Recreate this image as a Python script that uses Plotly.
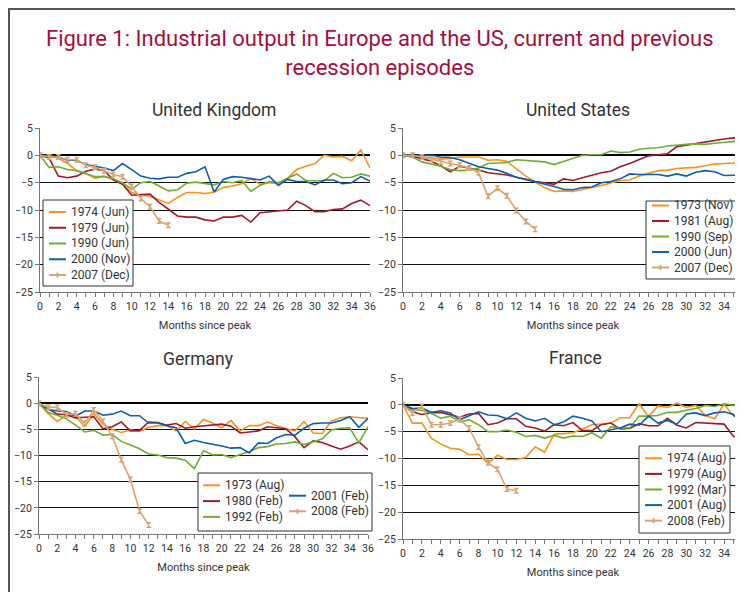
import plotly.graph_objects as go
from plotly.subplots import make_subplots

# the page body adds an 8px margin, so the figure is drawn 8px smaller and
# every position below is given in window pixels, then shifted back by 8
OFF = 8
W, H = 743 - OFF, 592 - OFF

months = list(range(37))

# United Kingdom
uk_1974 = [0, -0.3, -0.5, -1.5, -2.8, -3.3, -4.2, -3.8, -4.5, -5.2, -6.8, -7.3, -7.5, -8.2, -8.8, -7.7, -6.8, -6.8, -7.0,
           -6.7, -5.9, -5.6, -5.2, -4.2, -5.3, -5.0, -5.2, -4.2, -2.6, -2.0, -1.5, 0.0, -0.3, -0.2, -1.0, 1.0, -2.3]
uk_1979 = [0, -0.5, -3.8, -4.1, -3.8, -2.9, -2.5, -2.8, -4.5, -5.3, -7.3, -7.2, -7.1, -8.6, -9.8, -11.1, -11.3, -11.3,
           -11.8, -12.0, -11.3, -11.3, -11.0, -12.2, -10.5, -10.3, -10.1, -10.0, -8.4, -9.2, -10.3, -10.3, -9.9, -9.8,
           -8.8, -8.2, -9.2]
uk_1990 = [0, -2.2, -2.1, -2.6, -2.8, -3.3, -3.9, -3.9, -4.3, -5.0, -6.2, -5.0, -4.8, -5.6, -6.5, -6.3, -5.1, -4.9, -5.2,
           -5.4, -4.8, -5.0, -4.6, -6.6, -5.5, -4.8, -5.0, -4.2, -3.4, -4.6, -4.7, -4.7, -3.3, -4.1, -4.0, -3.4, -3.8]
uk_2000 = [0, 0, -0.3, -0.9, -0.9, -1.7, -2.0, -2.3, -2.8, -1.5, -2.6, -3.8, -4.2, -4.3, -4.0, -4.0, -3.3, -3.0, -2.1,
           -6.7, -4.4, -3.9, -4.0, -4.3, -4.5, -3.8, -5.5, -4.4, -4.8, -4.8, -5.4, -4.5, -4.5, -5.2, -5.0, -3.9, -4.7]
uk_2007 = [0, -0.3, -0.3, -0.8, -0.8, -1.8, -2.2, -2.8, -3.5, -3.9, -5.7, -7.9, -9.4, -12.0, -12.8]

# United States
us_1973 = [0, -0.2, -0.3, -0.5, -0.6, -0.6, -0.3, -0.3, -0.3, -0.9, -0.8, -1.1, -2.5, -3.8, -4.9, -5.9, -6.6, -6.5, -6.6,
           -6.3, -5.9, -5.5, -5.0, -4.6, -4.5, -3.8, -3.3, -2.8, -2.7, -2.4, -2.3, -2.2, -1.9, -1.6, -1.5, -1.4, -0.6]
us_1981 = [0, -0.2, -0.6, -1.1, -1.9, -3.0, -2.0, -2.3, -2.7, -3.2, -3.4, -3.6, -4.0, -4.4, -4.8, -5.0, -5.3, -4.3, -4.6,
           -4.1, -3.6, -3.2, -2.9, -2.1, -1.5, -0.8, -0.1, 0.1, 0.3, 1.6, 1.9, 2.1, 2.4, 2.8, 3.0, 3.2, 3.2]
us_1990 = [0, -0.3, -1.2, -1.6, -2.0, -2.6, -2.8, -2.7, -2.3, -1.5, -1.4, -1.3, -0.8, -0.9, -1.0, -1.2, -1.7, -1.1, -0.5,
           0.0, 0.1, 0.1, 0.8, 0.5, 0.6, 1.1, 1.3, 1.4, 1.7, 1.9, 2.0, 2.1, 2.0, 2.2, 2.4, 2.5, 2.7]
us_2000 = [0, 0, 0, 0, -0.3, -0.4, -0.8, -1.5, -2.1, -2.4, -2.7, -3.3, -4.0, -4.4, -4.8, -5.2, -5.7, -6.2, -6.3, -5.9,
           -5.8, -5.0, -4.8, -4.3, -3.4, -3.5, -3.5, -3.5, -3.8, -3.4, -3.8, -3.1, -2.8, -3.0, -3.7, -3.7, -3.6]
us_2007 = [0, 0, -0.3, -0.7, -1.2, -1.5, -1.8, -2.3, -3.2, -7.5, -6.0, -7.4, -10.1, -12.1, -13.5]

# Germany
de_1973 = [0, -2.0, -3.5, -2.3, -2.5, -4.5, -2.0, -4.0, -5.0, -5.6, -5.1, -5.4, -4.6, -4.3, -4.3, -5.3, -3.5, -4.9, -3.1,
           -3.8, -4.7, -3.3, -5.3, -4.3, -4.3, -3.6, -4.3, -4.9, -5.3, -3.5, -5.7, -5.8, -3.4, -2.8, -2.6, -2.7, -2.9]
de_1980 = [0, -1.0, -2.1, -2.2, -2.8, -2.7, -2.6, -4.9, -4.5, -3.6, -5.3, -5.2, -3.6, -3.7, -4.2, -3.9, -4.8, -4.5, -4.3,
           -4.2, -4.0, -4.4, -5.7, -5.5, -5.3, -4.5, -4.7, -4.9, -6.4, -8.5, -7.2, -7.5, -8.2, -8.8, -8.2, -7.4, -8.9]
de_1992 = [0, -1.8, -2.3, -3.0, -4.2, -5.5, -5.2, -6.1, -6.0, -7.3, -8.0, -8.7, -9.7, -9.9, -10.4, -10.5, -10.9, -12.5,
           -9.1, -9.9, -9.8, -10.4, -9.8, -9.3, -8.5, -8.3, -7.8, -7.7, -7.4, -7.9, -7.4, -6.8, -5.1, -4.8, -4.7, -7.6,
           -4.5]
de_2001 = [0, -1.2, -1.5, -1.6, -2.5, -1.5, -1.5, -2.3, -2.1, -1.5, -2.4, -2.4, -3.8, -3.8, -4.3, -4.7, -7.7, -7.1, -7.5,
           -7.8, -8.2, -8.6, -8.5, -9.5, -7.6, -7.7, -6.6, -6.0, -6.1, -4.8, -3.9, -3.8, -3.8, -3.3, -2.6, -4.6, -2.9]
de_2008 = [0, -0.8, -0.8, -2.2, -2.0, -3.9, -1.3, -3.5, -6.3, -10.8, -14.6, -20.6, -23.3]

# France
fr_1974 = [0, -3.4, -3.4, -6.2, -7.3, -8.1, -8.3, -9.3, -9.2, -10.9, -9.4, -10.2, -10.2, -9.8, -7.8, -8.8, -5.5, -5.3,
           -5.2, -4.5, -3.7, -3.6, -3.4, -2.4, -2.4, 0.2, -2.2, -0.2, -0.5, 0.3, -0.5, -0.1, -2.0, -2.6, 0.1, -2.1, -2.1]
fr_1979 = [0, -1.3, -1.8, -1.5, -1.4, -1.8, -2.3, -1.7, -1.6, -3.7, -3.4, -2.6, -2.6, -4.0, -4.3, -4.9, -3.7, -3.9, -3.3,
           -4.8, -4.8, -3.7, -3.4, -4.5, -4.4, -3.5, -3.9, -3.9, -2.5, -3.8, -4.3, -3.3, -3.4, -3.6, -3.6, -5.9, -5.9]
fr_1992 = [0, -1.0, -1.0, -1.6, -2.5, -2.1, -3.2, -2.8, -3.7, -5.0, -5.0, -4.7, -5.1, -5.9, -5.7, -6.2, -5.7, -6.2, -5.8,
           -5.9, -5.2, -6.2, -4.1, -4.3, -4.3, -2.1, -2.1, -2.0, -1.4, -1.4, -1.0, -0.7, -0.1, -0.3, 0.2, -0.1, 0.7]
fr_2001 = [0, -0.7, -0.6, -1.4, -1.1, -1.5, -2.8, -2.0, -1.3, -1.9, -2.0, -2.6, -1.5, -2.5, -3.0, -2.5, -3.7, -3.2, -2.1,
           -2.5, -3.0, -5.0, -4.7, -4.3, -3.6, -3.8, -2.1, -3.4, -2.9, -3.6, -1.7, -1.5, -2.0, -1.5, -1.3, -1.8, -4.0]
fr_2008 = [0, -1.5, -0.3, -3.7, -3.7, -3.4, -2.7, -4.3, -7.9, -10.8, -12.0, -15.7, -16.0]

ORANGE = "#f7931e"
RED = "#a3182a"
GREEN = "#72ad33"
BLUE = "#0d5fb2"
TAN = "#d9a471"
FONT = "Roboto, Liberation Sans, sans-serif"
TXT = "#333333"

fig = make_subplots(rows=2, cols=2)


def px_x(x):
    return (x - OFF) / W


def px_y(y):
    return 1 - (y - OFF) / H


shapes = []
annotations = []


def add_series(row, col, name, values, color, marker=False):
    fig.add_trace(go.Scatter(
        x=months[:len(values)],
        y=values,
        name=name,
        mode="lines+markers" if marker else "lines",
        line=dict(color=color, width=1.6),
        marker=dict(symbol="hourglass", size=6, color=color) if marker else None,
        showlegend=False,
    ), row=row, col=col)


def add_legend(entries, x_line, y_first, step):
    # hand-drawn legend: short line sample + text, like the original spreadsheet chart
    for i, (name, color, marker) in enumerate(entries):
        y = y_first + i * step
        shapes.append(dict(type="line", xref="paper", yref="paper", layer="above",
                           x0=px_x(x_line), x1=px_x(x_line + 17), y0=px_y(y), y1=px_y(y),
                           line=dict(color=color, width=2)))
        if marker:
            shapes.append(dict(type="line", xref="paper", yref="paper", layer="above",
                               x0=px_x(x_line + 8.5), x1=px_x(x_line + 8.5), y0=px_y(y - 2.5), y1=px_y(y + 2.5),
                               line=dict(color=color, width=2)))
        annotations.append(dict(text=name, x=px_x(x_line + 20), y=px_y(y), xref="paper", yref="paper",
                                xanchor="left", yanchor="middle", showarrow=False,
                                font=dict(family=FONT, size=12, color=TXT)))


def add_box(x0, y0, x1, y1):
    shapes.append(dict(type="rect", xref="paper", yref="paper", layer="above",
                       x0=px_x(x0), x1=px_x(x1), y0=px_y(y1), y1=px_y(y0),
                       line=dict(color="#333", width=1), fillcolor="white"))


# UK
uk_entries = [("1974 (Jun)", ORANGE, False), ("1979 (Jun)", RED, False), ("1990 (Jun)", GREEN, False),
              ("2000 (Nov)", BLUE, False), ("2007 (Dec)", TAN, True)]
for (name, color, mk), vals in zip(uk_entries, [uk_1974, uk_1979, uk_1990, uk_2000, uk_2007]):
    add_series(1, 1, name, vals, color, mk)

# US
us_entries = [("1973 (Nov)", ORANGE, False), ("1981 (Aug)", RED, False), ("1990 (Sep)", GREEN, False),
              ("2000 (Jun)", BLUE, False), ("2007 (Dec)", TAN, True)]
for (name, color, mk), vals in zip(us_entries, [us_1973, us_1981, us_1990, us_2000, us_2007]):
    add_series(1, 2, name, vals, color, mk)

# Germany
de_entries = [("1973 (Aug)", ORANGE, False), ("1980 (Feb)", RED, False), ("1992 (Feb)", GREEN, False),
              ("2001 (Feb)", BLUE, False), ("2008 (Feb)", TAN, True)]
for (name, color, mk), vals in zip(de_entries, [de_1973, de_1980, de_1992, de_2001, de_2008]):
    add_series(2, 1, name, vals, color, mk)

# France
fr_entries = [("1974 (Aug)", ORANGE, False), ("1979 (Aug)", RED, False), ("1992 (Mar)", GREEN, False),
              ("2001 (Aug)", BLUE, False), ("2008 (Feb)", TAN, True)]
for (name, color, mk), vals in zip(fr_entries, [fr_1974, fr_1979, fr_1992, fr_2001, fr_2008]):
    add_series(2, 2, name, vals, color, mk)

# panel positions in window pixels: (x0, x36, y_top(5), y_bottom(-25))
panels = {
    (1, 1): (40, 370, 128, 292),
    (1, 2): (403, 743, 128, 292),
    (2, 1): (39, 368, 377, 534),
    (2, 2): (403, 743, 378, 539),
}
for (r, c), (x0, x1, yt, yb) in panels.items():
    fig.update_xaxes(
        domain=[px_x(x0), px_x(x1)], range=[0, 36], dtick=2, tick0=0,
        ticks="outside", ticklen=4, tickcolor="#777", tickwidth=1,
        minor=dict(dtick=1, ticks="outside", ticklen=4, tickcolor="#777"),
        showline=True, linecolor="#777", linewidth=1, showgrid=False, zeroline=False,
        tickfont=dict(family=FONT, size=10.5, color=TXT), ticklabeloverflow="allow",
        title=dict(text="Months since peak", font=dict(family=FONT, size=11, color=TXT), standoff=9),
        row=r, col=c,
    )
    fig.update_yaxes(
        domain=[px_y(yb), px_y(yt)], range=[-25, 5], dtick=5, tick0=0,
        showgrid=True, gridcolor="#111", gridwidth=1,
        zeroline=True, zerolinecolor="#000", zerolinewidth=2,
        showline=True, linecolor="#777", linewidth=1,
        ticks="outside", ticklen=4, tickcolor="#777",
        tickfont=dict(family=FONT, size=10.5, color=TXT), ticklabeloverflow="allow",
        row=r, col=c,
    )

# legends
add_box(43, 200, 133, 286)
add_legend(uk_entries, 49, 212, 15.75)
add_box(646, 201, 742, 279)
add_legend(us_entries, 652, 205.5, 15.5)
add_box(198, 473, 372, 531)
add_legend(de_entries[:3], 203, 485.3, 15.8)
add_legend(de_entries[3:], 289, 495.7, 15.6)
add_box(639, 446, 730, 533)
add_legend(fr_entries, 645, 458.3, 15.6)

# outer frame (left and top edges)
shapes.append(dict(type="line", xref="paper", yref="paper", x0=px_x(9), x1=px_x(9), y0=0, y1=px_y(8),
                   line=dict(color="#555", width=2)))
shapes.append(dict(type="line", xref="paper", yref="paper", x0=px_x(8), x1=1, y0=px_y(9), y1=px_y(9),
                   line=dict(color="#555", width=2)))

titles = [("United Kingdom", 214, 110), ("United States", 578, 110), ("Germany", 198, 359), ("France", 575, 358)]
for t, x, y in titles:
    annotations.append(dict(text=t, x=px_x(x), y=px_y(y), xref="paper", yref="paper", showarrow=False,
                            xanchor="center", yanchor="middle",
                            font=dict(family=FONT, size=17.5, color=TXT)))
annotations.append(dict(
    text="Figure 1: Industrial output in Europe and the US, current and previous<br>recession episodes",
    x=px_x(380), y=px_y(52.5), xref="paper", yref="paper", showarrow=False,
    xanchor="center", yanchor="middle",
    font=dict(family=FONT, size=22, color="#a50f3c"),
))

fig.update_layout(
    width=W, height=H,
    margin=dict(l=0, r=0, t=0, b=0, autoexpand=False),
    paper_bgcolor="white", plot_bgcolor="white",
    showlegend=False,
    shapes=shapes,
    annotations=annotations,
)

fig.write_html("out.html")
